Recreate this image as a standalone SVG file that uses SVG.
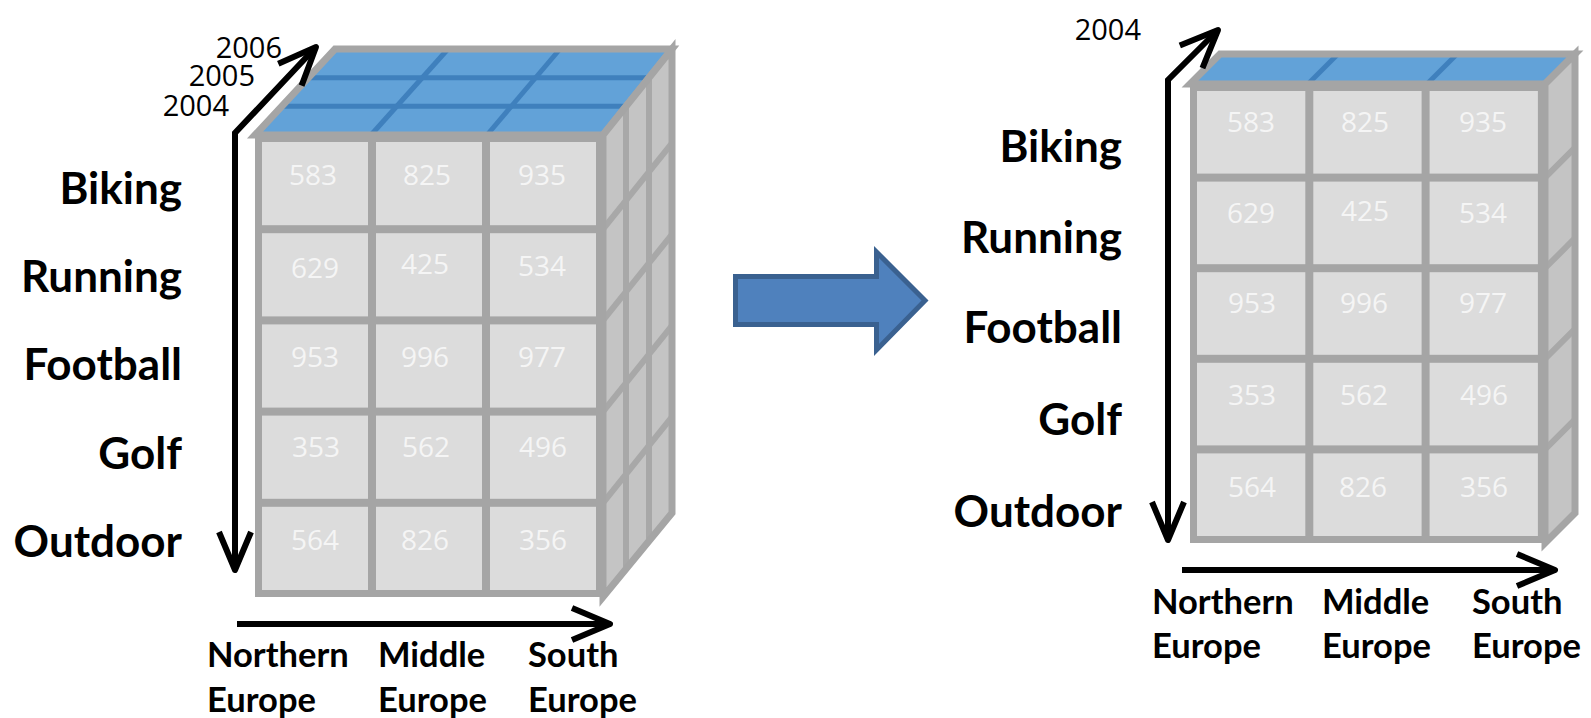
<svg xmlns="http://www.w3.org/2000/svg" width="1591" height="718" viewBox="0 0 1591 718">
<style>
.bg{fill:#ffffff}
.frame{fill:#a5a5a5}
.cell{fill:#dcdcdc}
.top{fill:#62a2d8}
.topdiv{stroke:#3f80bd;stroke-width:5;fill:none}
.edge{fill:none;stroke:#a5a5a5;stroke-width:7;stroke-linejoin:miter}
.side{fill:#c4c4c4}
.sidediv{stroke:#a8a8a8;stroke-width:6;fill:none}
.num{font-family:"Open Sans","Liberation Sans",sans-serif;font-size:28px;fill:#f5f5f5;text-anchor:middle}
.lbl{font-family:Lato,"Liberation Sans",sans-serif;font-weight:bold;font-size:44px;fill:#000;text-anchor:end}
.ax{font-family:Lato,"Liberation Sans",sans-serif;font-weight:bold;font-size:34.5px;fill:#000}
.yr{font-family:"Open Sans","Liberation Sans",sans-serif;font-size:29px;fill:#000;text-anchor:end}
.axis{fill:none;stroke:#000;stroke-width:6;marker-end:url(#ah)}
.axis2{marker-start:url(#ah)}
.block{fill:#4f81bd;stroke:#3a6190;stroke-width:5;stroke-linejoin:miter}
</style>
<defs>
<marker id="ah" markerUnits="userSpaceOnUse" viewBox="-50 -25 60 50" refX="0" refY="0" markerWidth="60" markerHeight="50" orient="auto-start-reverse" overflow="visible">
<path d="M-38,-16 L0,0 L-38,16" fill="none" stroke="#000" stroke-width="6" stroke-linejoin="round" stroke-linecap="butt"/>
</marker>
</defs>
<rect class="bg" x="0" y="0" width="1591" height="718"/>

<g id="cube-2004-2006">
  <polygon class="top" points="255,135 335,49 672,49 603,135"/>
  <line class="topdiv" x1="282" y1="106.3" x2="626" y2="106.3"/>
  <line class="topdiv" x1="308" y1="77.7" x2="649" y2="77.7"/>
  <line class="topdiv" x1="371" y1="135" x2="448" y2="49"/>
  <line class="topdiv" x1="487" y1="135" x2="560" y2="49"/>
  <polygon class="edge" points="255,135 335,49 672,49 603,135"/>
  <polygon class="side" points="603,135 672,49 672,513 603,597"/>
  <line class="sidediv" x1="626" y1="106.3" x2="626" y2="569"/>
  <line class="sidediv" x1="649" y1="77.7" x2="649" y2="541"/>
  <line class="sidediv" x1="603" y1="229.2" x2="672" y2="143.2"/>
  <line class="sidediv" x1="603" y1="320.4" x2="672" y2="234.4"/>
  <line class="sidediv" x1="603" y1="411.6" x2="672" y2="325.6"/>
  <line class="sidediv" x1="603" y1="502.8" x2="672" y2="416.8"/>
  <polygon class="edge" points="603,135 672,49 672,513 603,597"/>
  <rect class="frame" x="255" y="135" width="348" height="462"/>
  <rect class="cell" x="262" y="142" width="106" height="83.2"/>
  <rect class="cell" x="376" y="142" width="106" height="83.2"/>
  <rect class="cell" x="490" y="142" width="106" height="83.2"/>
  <rect class="cell" x="262" y="233.2" width="106" height="83.2"/>
  <rect class="cell" x="376" y="233.2" width="106" height="83.2"/>
  <rect class="cell" x="490" y="233.2" width="106" height="83.2"/>
  <rect class="cell" x="262" y="324.4" width="106" height="83.2"/>
  <rect class="cell" x="376" y="324.4" width="106" height="83.2"/>
  <rect class="cell" x="490" y="324.4" width="106" height="83.2"/>
  <rect class="cell" x="262" y="415.6" width="106" height="83.2"/>
  <rect class="cell" x="376" y="415.6" width="106" height="83.2"/>
  <rect class="cell" x="490" y="415.6" width="106" height="83.2"/>
  <rect class="cell" x="262" y="506.8" width="106" height="83.2"/>
  <rect class="cell" x="376" y="506.8" width="106" height="83.2"/>
  <rect class="cell" x="490" y="506.8" width="106" height="83.2"/>
  <text class="num" x="313" y="185">583</text>
  <text class="num" x="427" y="185">825</text>
  <text class="num" x="542" y="185">935</text>
  <text class="num" x="315" y="278">629</text>
  <text class="num" x="425" y="274">425</text>
  <text class="num" x="542" y="276">534</text>
  <text class="num" x="315" y="367">953</text>
  <text class="num" x="425" y="367">996</text>
  <text class="num" x="542" y="367">977</text>
  <text class="num" x="316" y="457">353</text>
  <text class="num" x="426" y="457">562</text>
  <text class="num" x="543" y="457">496</text>
  <text class="num" x="315" y="550">564</text>
  <text class="num" x="425" y="550">826</text>
  <text class="num" x="543" y="550">356</text>
</g>

<g id="labels-left">
  <text class="yr" x="282" y="58">2006</text>
  <text class="yr" x="255" y="86">2005</text>
  <text class="yr" x="229" y="116">2004</text>
  <text class="lbl" x="182" y="204">Biking</text>
  <text class="lbl" x="182" y="292">Running</text>
  <text class="lbl" x="182" y="380">Football</text>
  <text class="lbl" x="182" y="469">Golf</text>
  <text class="lbl" x="182" y="557">Outdoor</text>
  <text class="ax" x="207" y="667">Northern</text>
  <text class="ax" x="207" y="712">Europe</text>
  <text class="ax" x="378" y="667">Middle</text>
  <text class="ax" x="378" y="712">Europe</text>
  <text class="ax" x="528" y="667">South</text>
  <text class="ax" x="528" y="712">Europe</text>
</g>

<g id="cube-2004">
  <polygon class="top" points="1190,84 1220,54 1575,54 1545,84"/>
  <line class="topdiv" x1="1308" y1="84" x2="1338" y2="54"/>
  <line class="topdiv" x1="1427" y1="84" x2="1457" y2="54"/>
  <polygon class="edge" points="1190,84 1220,54 1575,54 1545,84"/>
  <polygon class="side" points="1545,84 1575,54 1575,513 1545,543"/>
  <line class="sidediv" x1="1545" y1="177.6" x2="1575" y2="147.6"/>
  <line class="sidediv" x1="1545" y1="268.2" x2="1575" y2="238.2"/>
  <line class="sidediv" x1="1545" y1="358.8" x2="1575" y2="328.8"/>
  <line class="sidediv" x1="1545" y1="449.4" x2="1575" y2="419.4"/>
  <polygon class="edge" points="1545,84 1575,54 1575,513 1545,543"/>
  <rect class="frame" x="1190" y="84" width="355" height="459"/>
  <rect class="cell" x="1197" y="91" width="108.3" height="82.6"/>
  <rect class="cell" x="1313.3" y="91" width="108.3" height="82.6"/>
  <rect class="cell" x="1429.6" y="91" width="108.3" height="82.6"/>
  <rect class="cell" x="1197" y="181.6" width="108.3" height="82.6"/>
  <rect class="cell" x="1313.3" y="181.6" width="108.3" height="82.6"/>
  <rect class="cell" x="1429.6" y="181.6" width="108.3" height="82.6"/>
  <rect class="cell" x="1197" y="272.2" width="108.3" height="82.6"/>
  <rect class="cell" x="1313.3" y="272.2" width="108.3" height="82.6"/>
  <rect class="cell" x="1429.6" y="272.2" width="108.3" height="82.6"/>
  <rect class="cell" x="1197" y="362.8" width="108.3" height="82.6"/>
  <rect class="cell" x="1313.3" y="362.8" width="108.3" height="82.6"/>
  <rect class="cell" x="1429.6" y="362.8" width="108.3" height="82.6"/>
  <rect class="cell" x="1197" y="453.4" width="108.3" height="82.6"/>
  <rect class="cell" x="1313.3" y="453.4" width="108.3" height="82.6"/>
  <rect class="cell" x="1429.6" y="453.4" width="108.3" height="82.6"/>
  <text class="num" x="1251" y="132">583</text>
  <text class="num" x="1365" y="132">825</text>
  <text class="num" x="1483" y="132">935</text>
  <text class="num" x="1251" y="223">629</text>
  <text class="num" x="1365" y="221">425</text>
  <text class="num" x="1483" y="223">534</text>
  <text class="num" x="1252" y="313">953</text>
  <text class="num" x="1364" y="313">996</text>
  <text class="num" x="1483" y="313">977</text>
  <text class="num" x="1252" y="405">353</text>
  <text class="num" x="1364" y="405">562</text>
  <text class="num" x="1484" y="405">496</text>
  <text class="num" x="1252" y="497">564</text>
  <text class="num" x="1363" y="497">826</text>
  <text class="num" x="1484" y="497">356</text>
</g>

<g id="labels-right">
  <text class="yr" x="1141" y="40">2004</text>
  <text class="lbl" x="1122" y="162">Biking</text>
  <text class="lbl" x="1122" y="253">Running</text>
  <text class="lbl" x="1122" y="343">Football</text>
  <text class="lbl" x="1122" y="435">Golf</text>
  <text class="lbl" x="1122" y="527">Outdoor</text>
  <text class="ax" x="1152" y="614">Northern</text>
  <text class="ax" x="1152" y="658">Europe</text>
  <text class="ax" x="1322" y="614">Middle</text>
  <text class="ax" x="1322" y="658">Europe</text>
  <text class="ax" x="1472" y="614">South</text>
  <text class="ax" x="1472" y="658">Europe</text>
</g>

<g id="connectors">
  <path class="axis axis2" d="M316,47 L235,133 L235,570"/>
  <path class="axis" d="M237,624 L610,624"/>
  <path class="axis axis2" d="M1218,30 L1168,80 L1168,540"/>
  <path class="axis" d="M1182,570 L1555,570"/>
  <polygon class="block" points="735.5,276.5 876.5,276.5 876.5,252 925,300.5 876.5,350 876.5,324.5 735.5,324.5"/>
</g>
</svg>
